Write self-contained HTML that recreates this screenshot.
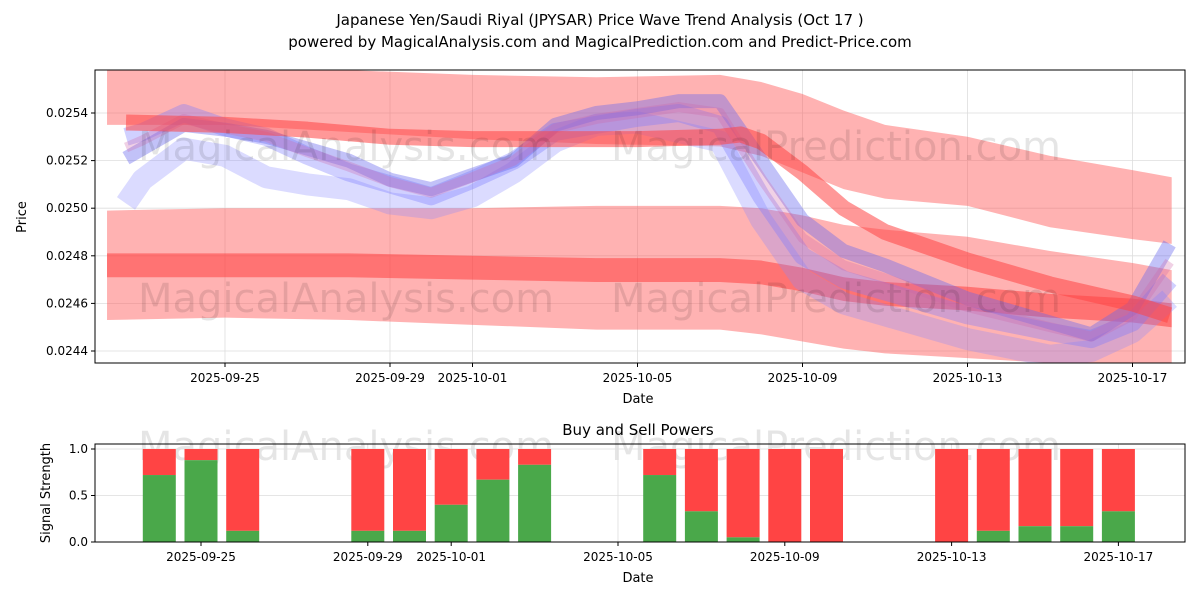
<!DOCTYPE html>
<html><head><meta charset="utf-8"><style>
body{margin:0;background:#fff;font-family:"Liberation Sans","DejaVu Sans",sans-serif}
svg text{font-family:"DejaVu Sans","Liberation Sans",sans-serif;fill:#000}
</style></head><body>
<svg id="c" width="1200" height="600"><defs><clipPath id="clipTop"><rect x="95" y="70" width="1090" height="293"/></clipPath></defs></svg>
<script>
// ---- data ----
const bandDays=[0.14,3,6,9,12,15,16,17,18,19,21,23,25,25.95];
const redUpperTop=[0.02558,0.02558,0.02558,0.02556,0.02555,0.02556,0.02553,0.02548,0.02541,0.02535,0.02530,0.02522,0.02516,0.02513];
const redUpperBot=[0.02535,0.02535,0.02532,0.02529,0.02527,0.02526,0.02522,0.02515,0.02508,0.02504,0.02501,0.02492,0.02487,0.02485];
const redLowerTop=[0.02499,0.02500,0.02500,0.02500,0.02501,0.02501,0.02500,0.02497,0.02493,0.02491,0.02488,0.02482,0.02477,0.02474];
const redLowerBot=[0.02453,0.02454,0.02453,0.02451,0.02449,0.02449,0.02447,0.02444,0.02441,0.02439,0.02437,0.02435,0.02434,0.02433];
const darkLowCenter=[0.02476,0.02476,0.02476,0.02475,0.02474,0.02474,0.02473,0.02470,0.02466,0.02464,0.02462,0.02459,0.02457,0.02455];
const darkUpDays=[0.6,3,5,7,9,11,13,15,15.5,16,17,18,19,21,23,25,25.9];
const darkUpCenter=[0.02536,0.02535,0.02533,0.02530,0.02529,0.02529,0.02529,0.02530,0.02531,0.02528,0.02515,0.02500,0.02490,0.02478,0.02468,0.02460,0.02455];
const blueDays=[0.6,1,2,3,4,5,6,7,8,9,10,11,12,13,14,15,16,17,18,19,21,23,24,25,25.9];
const blue1=[0.02521,0.02525,0.02535,0.02533,0.02530,0.02525,0.02520,0.02512,0.02508,0.02514,0.02520,0.02535,0.02540,0.02542,0.02545,0.02545,0.02520,0.02495,0.02482,0.02476,0.02462,0.02452,0.02447,0.02458,0.02485];
const blue2=[0.02530,0.02532,0.02540,0.02534,0.02530,0.02522,0.02515,0.02510,0.02505,0.02512,0.02520,0.02532,0.02535,0.02538,0.02540,0.02535,0.02505,0.02480,0.02470,0.02465,0.02455,0.02448,0.02445,0.02452,0.02470];
const blue3=[0.02502,0.02512,0.02525,0.02522,0.02513,0.02510,0.02508,0.02502,0.02500,0.02505,0.02515,0.02528,0.02535,0.02536,0.02532,0.02528,0.02495,0.02470,0.02460,0.02455,0.02445,0.02438,0.02440,0.02448,0.02462];
const yTicks=[0.0244,0.0246,0.0248,0.0250,0.0252,0.0254];
const xTickDays=[3,7,9,13,17,21,25];
const xTickLabels=["2025-09-25","2025-09-29","2025-10-01","2025-10-05","2025-10-09","2025-10-13","2025-10-17"];
const barDays=[2,3,4,7,8,9,10,11,14,15,16,17,18,21,22,23,24,25];
const buyVals=[0.72,0.88,0.12,0.12,0.12,0.40,0.67,0.83,0.72,0.33,0.05,0,0,0,0.12,0.17,0.17,0.33];
const sigTicks=[0,0.5,1.0];

const NS="http://www.w3.org/2000/svg";
const svg=document.getElementById('c');
function mk(t,a,p){const e=document.createElementNS(NS,t);for(const k in a)e.setAttribute(k,a[k]);(p||svg).appendChild(e);return e;}
const X=d=>225+(d-3)*41.25;
const Y=v=>113+(0.0254-v)/0.0001*23.8;
const XB=d=>201+(d-3)*41.7;
const YB=v=>542-v*93;

let t=mk('text',{x:600,y:25,'text-anchor':'middle','font-size':15});t.textContent="Japanese Yen/Saudi Riyal (JPYSAR) Price Wave Trend Analysis (Oct 17 )";

t=mk('text',{x:600,y:47,'text-anchor':'middle','font-size':15});t.textContent="powered by MagicalAnalysis.com and MagicalPrediction.com and Predict-Price.com";


yTicks.forEach(v=>{mk('line',{x1:95,x2:1185,y1:Y(v),y2:Y(v),stroke:'#ddd','stroke-width':0.8});
 const l=mk('text',{x:88,y:Y(v)+4,'text-anchor':'end','font-size':12});l.textContent=v.toFixed(4);
 
 mk('line',{x1:91,x2:95,y1:Y(v),y2:Y(v),stroke:'#000'});});
xTickDays.forEach((d,i)=>{mk('line',{x1:X(d),x2:X(d),y1:70,y2:363,stroke:'#ddd','stroke-width':0.8});
 mk('line',{x1:X(d),x2:X(d),y1:363,y2:367,stroke:'#000'});
 const l=mk('text',{x:X(d),y:382,'text-anchor':'middle','font-size':12});l.textContent=xTickLabels[i];
 });

const G=mk('g',{'clip-path':'url(#clipTop)'});

function band(days,top,bot,fill,op,name){
 let pts=days.map((d,i)=>X(d)+','+Y(top[i]));
 for(let i=days.length-1;i>=0;i--)pts.push(X(days[i])+','+Y(bot[i]));
 const p=mk('polygon',{points:pts.join(' '),fill:fill,'fill-opacity':op},G);
 }
band(bandDays,redUpperTop,redUpperBot,'#ff5555',0.45,'upper-red-band');
band(bandDays,redLowerTop,redLowerBot,'#ff5555',0.45,'lower-red-band');
band(bandDays,darkLowCenter.map(v=>v+0.00005),darkLowCenter.map(v=>v-0.00005),'#ff3333',0.5,'lower-dark-red-band');
function line(days,vals,col,w,op,name){
 const p=mk('polyline',{points:days.map((d,i)=>X(d)+','+Y(vals[i])).join(' '),fill:'none',stroke:col,'stroke-width':w,'stroke-opacity':op,'stroke-linejoin':'round'},G);
 }
line(blueDays,blue3,'#8888ff',22,0.3,'blue-wave-3');
line(blueDays,blue2,'#7777ff',18,0.35,'blue-wave-2');
line(blueDays,blue1,'#6666ee',14,0.4,'blue-wave-1');
line(blueDays,blue1.map((v,i)=>(v+blue2[i])/2),'#cc66aa',10,0.3,'purple-wave');
line(darkUpDays,darkUpCenter,'#ff4444',16,0.55,'upper-dark-red-band');

[['MagicalAnalysis.com',346,160],['MagicalPrediction.com',836,160],['MagicalAnalysis.com',346,312],['MagicalPrediction.com',836,312],['MagicalAnalysis.com',346,460],['MagicalPrediction.com',836,460]].forEach(w=>{
 const e=mk('text',{x:w[1],y:w[2],'text-anchor':'middle','font-size':40,'fill-opacity':0.1});e.textContent=w[0];
 });

let r=mk('rect',{x:95,y:70,width:1090,height:293,fill:'none',stroke:'#000','stroke-width':1});

t=mk('text',{x:638,y:403,'text-anchor':'middle','font-size':13});t.textContent="Date";

t=mk('text',{x:26,y:217,'text-anchor':'middle','font-size':13,transform:'rotate(-90 26 217)'});t.textContent="Price";


t=mk('text',{x:638,y:435,'text-anchor':'middle','font-size':15});t.textContent="Buy and Sell Powers";

sigTicks.forEach(v=>{mk('line',{x1:95,x2:1185,y1:YB(v),y2:YB(v),stroke:'#ddd','stroke-width':0.8});
 mk('line',{x1:91,x2:95,y1:YB(v),y2:YB(v),stroke:'#000'});
 const l=mk('text',{x:88,y:YB(v)+4,'text-anchor':'end','font-size':12});l.textContent=v.toFixed(1);
 });
xTickDays.forEach((d,i)=>{mk('line',{x1:XB(d),x2:XB(d),y1:444,y2:542,stroke:'#ddd','stroke-width':0.8});
 mk('line',{x1:XB(d),x2:XB(d),y1:542,y2:546,stroke:'#000'});
 const l=mk('text',{x:XB(d),y:561,'text-anchor':'middle','font-size':12});l.textContent=xTickLabels[i];
 });
barDays.forEach((d,i)=>{const b=buyVals[i];
 const s=mk('rect',{x:XB(d)-16.5,y:YB(1),width:33,height:YB(b)-YB(1),fill:'#ff4444'});
 
 const g=mk('rect',{x:XB(d)-16.5,y:YB(b),width:33,height:YB(0)-YB(b),fill:'#4aa84a'});
 });
r=mk('rect',{x:95,y:444,width:1090,height:98,fill:'none',stroke:'#000','stroke-width':1});

t=mk('text',{x:638,y:582,'text-anchor':'middle','font-size':13});t.textContent="Date";

t=mk('text',{x:50,y:493,'text-anchor':'middle','font-size':13,transform:'rotate(-90 50 493)'});t.textContent="Signal Strength";

</script>
</body></html>
